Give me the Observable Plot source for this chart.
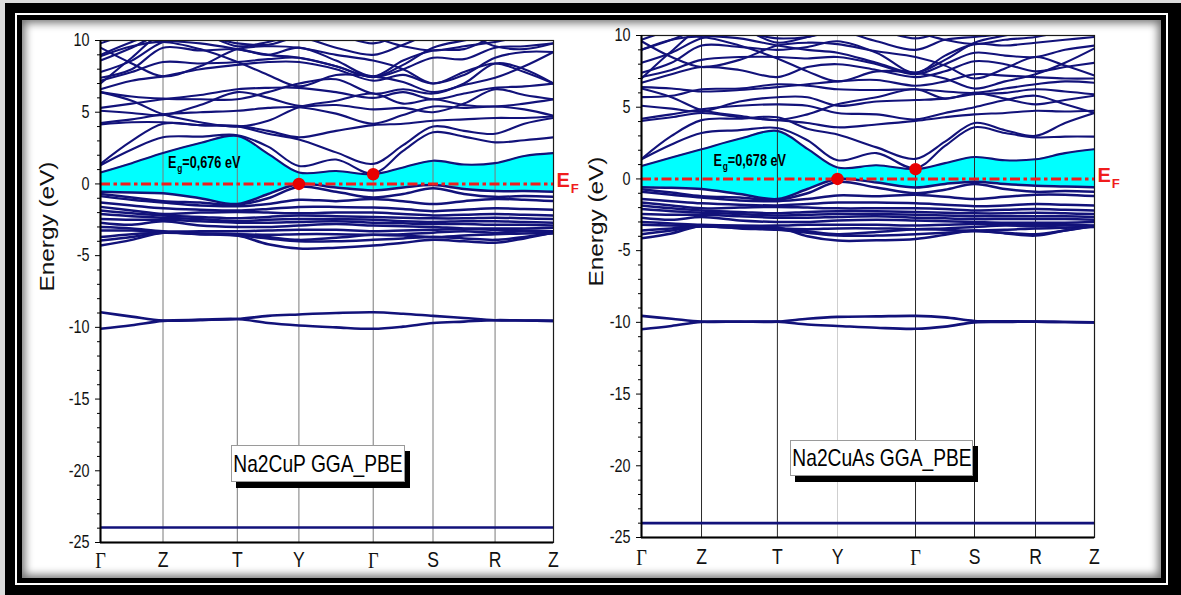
<!DOCTYPE html>
<html><head><meta charset="utf-8">
<script src="https://cdn.jsdelivr.net/npm/d3@7"></script>
<script src="https://cdn.jsdelivr.net/npm/@observablehq/plot@0.6"></script>
<style>
html,body{margin:0;padding:0;}
body{width:1181px;height:595px;overflow:hidden;position:relative;background:#dcdcdc;
 font-family:"Liberation Sans",Arial,sans-serif;}
#f1{position:absolute;left:5px;top:3px;width:1176px;height:592px;box-sizing:border-box;border-style:solid;border-color:#000;border-width:10px 13px 10px 10px;background:#fff;}
#f2{position:absolute;left:0;top:0;right:0;bottom:0;box-sizing:border-box;border:2px solid #fff;}
#f3{position:absolute;left:0;top:0;right:0;bottom:0;box-sizing:border-box;border:5px solid #000;background:#fff;box-shadow:inset 0 0 9px 3px rgba(0,0,0,0.55);}
.panel{position:absolute;top:0;z-index:2;}
.lg{position:absolute;z-index:3;background:#fff;border:1px solid #9a9a9a;box-shadow:5px 6px 0 #000;font-size:24px;color:#000;box-sizing:border-box;}
.lg span{position:absolute;left:50%;top:50%;white-space:nowrap;line-height:1;transform:translate(-50%,-50%) scaleX(0.8);}
</style></head>
<body>
<div id="f1"><div id="f2"><div id="f3"></div></div></div>
<div id="left" class="panel" style="left:0px"></div>
<div id="right" class="panel" style="left:560px"></div>
<div class="lg" style="left:231px;top:445px;width:174px;height:37px;"><span id="lgL"></span></div>
<div class="lg" style="left:790px;top:440px;width:183px;height:36px;"><span id="lgR"></span></div>
<script>
// ---------- data ----------
const kLabels = ["Γ","Z","T","Y","Γ","S","R","Z"];
const leftK  = [0, 0.138, 0.302, 0.438, 0.602, 0.734, 0.871, 1];
const rightK = [0, 0.1325, 0.300, 0.4327, 0.6049, 0.7351, 0.8698, 1];
const yTicks = [-25, -20, -15, -10, -5, 0, 5, 10];
const compounds = ["Na2CuP GGA_PBE", "Na2CuAs GGA_PBE"];
const gapLabels = ["Eg=0,676 eV", "Eg=0,678 eV"];
const gaps = [0.676, 0.678];
// energies at Γ, mid, Z, mid, T, mid, Y, mid, Γ, mid, S, mid, R, mid, Z
const leftConduction = [
 [0.80,1.45,2.15,2.85,3.35,2.10,0.80,0.90,0.676,1.15,1.62,1.35,1.45,1.95,2.15],
 [1.30,2.40,3.25,3.30,3.40,2.60,1.25,1.70,0.72,2.30,3.60,3.30,2.90,3.05,3.25],
 [1.40,3.00,4.20,4.10,4.00,3.50,3.10,2.20,1.40,2.70,4.00,3.70,3.50,4.20,4.60],
 [4.15,4.30,4.30,4.10,4.05,3.70,3.25,3.70,4.10,4.20,4.40,4.50,4.60,4.60,4.70],
 [4.25,4.50,4.85,5.00,5.10,5.30,5.35,4.90,4.20,4.80,5.40,5.30,5.40,5.20,4.75],
 [5.10,4.95,4.80,5.50,6.40,6.00,5.45,5.50,5.20,5.30,5.00,5.60,6.60,6.20,5.90],
 [5.30,5.60,5.90,6.20,6.60,6.70,6.70,6.40,6.00,6.40,5.90,6.30,6.70,6.80,7.00],
 [6.40,6.10,5.95,5.90,5.90,6.40,7.00,7.30,6.30,6.60,6.30,7.00,8.40,8.00,7.00],
 [6.60,7.20,7.50,8.00,8.30,8.50,8.50,8.00,7.20,7.60,7.00,7.60,8.80,9.20,9.20],
 [7.20,7.80,8.50,8.40,8.50,8.70,8.80,8.20,7.45,8.00,8.80,8.70,9.50,9.60,9.80],
 [7.40,8.00,9.50,9.30,9.40,9.00,9.50,8.60,7.50,8.60,9.30,9.40,10.2,10.2,10.3],
 [7.80,8.60,9.90,10.3,9.80,9.70,10.2,9.50,9.00,9.70,10.5,10.5,10.6,10.6,10.6],
 [8.60,9.50,10.5,10.6,10.5,10.4,10.6,10.4,9.80,10.4,10.6,10.6,10.7,10.7,10.7],
 [7.00,8.80,10.5,10.5,9.60,9.90,10.4,10.4,10.3,10.5,10.7,10.7,10.8,10.8,10.9],
 [10.4,10.2,10.0,9.80,9.40,9.00,8.80,8.20,7.45,8.30,9.50,10.0,10.4,10.6,10.8],
 [9.00,9.90,10.6,10.8,10.8,10.8,10.8,10.6,10.2,9.60,9.30,9.60,9.90,10.3,10.6],
 [9.80,10.5,10.9,10.9,10.9,10.9,10.9,10.9,10.9,10.9,10.9,10.5,9.60,9.40,9.80],
 [9.50,8.40,7.50,8.20,9.40,9.60,9.50,9.00,8.60,8.00,7.00,7.80,8.40,7.80,7.00],
 [6.40,5.80,4.85,4.30,4.00,4.40,5.35,5.80,6.30,5.60,5.90,5.50,5.40,5.60,5.90],
 [8.90,9.60,9.90,9.40,8.50,7.60,6.80,7.60,7.50,7.10,6.40,6.90,7.40,8.20,9.20]
];
const leftValence = [
 [-0.55,-0.60,-0.65,-1.00,-1.40,-0.70,0.00,-0.25,-0.45,-0.25,-0.08,-0.35,-0.50,-0.50,-0.55],
 [-0.70,-0.95,-1.20,-1.30,-1.45,-1.00,-0.20,-0.55,-0.95,-0.70,-0.30,-0.70,-0.90,-0.85,-0.90],
 [-0.85,-1.10,-1.30,-1.50,-1.55,-1.40,-1.10,-1.20,-1.05,-1.20,-1.40,-1.20,-1.05,-1.10,-1.20],
 [-1.30,-1.50,-1.70,-1.80,-1.85,-1.75,-1.60,-1.60,-1.65,-1.75,-1.90,-1.80,-1.70,-1.75,-1.80],
 [-1.60,-1.85,-2.10,-2.00,-1.95,-2.00,-2.05,-2.00,-2.00,-2.10,-2.20,-2.15,-2.10,-2.15,-2.20],
 [-1.85,-2.05,-2.20,-2.30,-2.40,-2.30,-2.20,-2.25,-2.30,-2.35,-2.40,-2.40,-2.35,-2.40,-2.45],
 [-2.10,-2.25,-2.35,-2.45,-2.60,-2.50,-2.45,-2.45,-2.50,-2.60,-2.65,-2.60,-2.60,-2.65,-2.70],
 [-2.45,-2.50,-2.50,-2.60,-2.70,-2.70,-2.65,-2.60,-2.70,-2.75,-2.80,-2.80,-2.85,-2.85,-2.90],
 [-2.70,-2.85,-2.60,-2.90,-3.00,-3.00,-2.90,-2.80,-2.90,-2.95,-3.00,-3.10,-3.10,-3.10,-3.05],
 [-3.00,-3.10,-3.30,-3.30,-3.30,-3.25,-3.20,-3.20,-3.30,-3.25,-3.20,-3.15,-3.20,-3.25,-3.30],
 [-3.25,-3.25,-3.35,-3.45,-3.50,-3.70,-3.90,-3.75,-3.55,-3.50,-3.40,-3.30,-3.40,-3.30,-3.40],
 [-3.70,-3.50,-3.40,-3.45,-3.50,-3.55,-3.50,-3.50,-3.55,-3.60,-3.70,-3.60,-3.50,-3.45,-3.45],
 [-3.95,-3.70,-3.40,-3.50,-3.60,-3.80,-4.00,-4.00,-3.90,-3.80,-3.70,-3.80,-3.90,-3.70,-3.40],
 [-4.30,-3.90,-3.40,-3.50,-3.60,-4.20,-4.50,-4.45,-4.30,-4.10,-3.90,-4.00,-4.10,-3.80,-3.40]
];
const leftCore = [
 [-8.95,-9.25,-9.53,-9.48,-9.42,-9.20,-9.10,-9.00,-8.95,-9.05,-9.20,-9.35,-9.50,-9.52,-9.55],
 [-10.10,-9.85,-9.55,-9.48,-9.42,-9.70,-9.87,-10.00,-10.10,-9.95,-9.70,-9.60,-9.50,-9.52,-9.55],
 [-23.95,-23.95,-23.95,-23.95,-23.95,-23.95,-23.95,-23.95,-23.95,-23.95,-23.95,-23.95,-23.95,-23.95,-23.95]
];
const rightConduction = [
 [0.90,1.50,2.07,2.80,3.35,2.10,0.80,0.95,0.678,1.10,1.53,1.30,1.37,1.80,2.07],
 [1.37,2.40,3.20,3.40,3.55,2.70,1.30,1.80,0.74,2.30,3.60,3.20,2.90,2.95,2.95],
 [1.40,3.00,4.10,4.20,4.30,3.50,3.10,2.20,1.40,2.60,3.90,3.40,3.00,3.90,4.60],
 [4.05,4.30,4.60,4.30,4.10,3.90,3.60,3.80,4.05,4.30,4.50,4.60,4.75,4.70,4.75],
 [4.20,4.50,4.85,5.10,5.20,5.10,4.60,4.50,4.15,4.60,5.00,5.50,5.80,5.20,4.60],
 [5.10,4.90,4.70,5.40,5.70,5.70,5.10,5.40,5.50,5.60,5.90,6.00,6.25,6.10,5.90],
 [5.70,5.80,6.25,6.30,6.60,6.50,6.25,6.20,6.25,6.10,6.00,6.30,6.60,6.80,6.70],
 [6.40,6.30,6.10,6.20,6.40,6.60,6.80,6.90,6.50,6.80,7.30,7.20,7.10,7.00,7.00],
 [6.70,7.30,7.80,7.60,7.10,7.80,8.00,7.60,7.10,7.50,8.20,8.00,7.50,7.80,8.10],
 [7.10,7.60,8.30,8.50,8.50,8.40,8.50,8.00,7.30,8.00,8.80,8.60,8.50,9.00,9.30],
 [7.40,8.10,9.30,9.20,9.00,9.20,9.60,8.80,7.40,8.60,9.40,9.30,9.50,9.70,9.90],
 [8.10,8.80,9.80,10.2,9.80,9.90,10.3,9.60,9.00,9.70,9.90,10.1,10.4,10.5,10.6],
 [9.00,9.70,10.5,10.6,10.4,10.4,10.6,10.4,9.80,10.3,10.6,10.6,10.7,10.7,10.7],
 [7.00,8.90,10.5,10.5,9.50,9.90,10.4,10.4,10.3,10.5,10.7,10.7,10.8,10.8,10.9],
 [10.4,10.2,10.0,9.80,9.30,9.00,8.80,8.10,7.40,8.30,9.50,10.0,10.4,10.6,10.8],
 [9.70,10.4,10.9,10.9,10.9,10.9,10.9,10.6,10.2,9.70,9.40,9.70,9.90,10.3,10.6],
 [9.60,8.50,7.80,8.30,9.30,9.50,9.40,8.90,8.50,7.90,7.00,7.70,8.50,7.90,7.20],
 [6.30,5.70,4.80,4.40,4.10,4.50,5.20,5.70,6.25,5.60,6.00,5.60,5.20,5.50,5.80],
 [9.00,9.70,9.90,9.30,8.40,7.50,6.80,7.50,7.40,7.00,6.30,6.80,7.30,8.10,9.10]
];
const rightValence = [
 [-0.58,-0.62,-0.70,-1.05,-1.40,-0.70,0.00,-0.25,-0.60,-0.35,-0.19,-0.35,-0.47,-0.52,-0.58],
 [-0.72,-0.95,-1.20,-1.30,-1.45,-1.00,-0.20,-0.60,-1.00,-0.75,-0.35,-0.70,-0.90,-0.85,-0.90],
 [-0.90,-1.10,-1.30,-1.50,-1.55,-1.40,-1.15,-1.20,-1.10,-1.25,-1.40,-1.25,-1.10,-1.10,-1.20],
 [-1.40,-1.55,-1.70,-1.80,-1.85,-1.75,-1.65,-1.65,-1.70,-1.80,-1.90,-1.85,-1.75,-1.80,-1.85],
 [-1.65,-1.85,-2.05,-2.00,-1.95,-2.00,-2.05,-2.05,-2.05,-2.10,-2.20,-2.15,-2.10,-2.15,-2.20],
 [-1.85,-2.05,-2.20,-2.30,-2.40,-2.30,-2.25,-2.25,-2.30,-2.35,-2.40,-2.40,-2.35,-2.40,-2.45],
 [-2.10,-2.25,-2.35,-2.45,-2.55,-2.50,-2.45,-2.45,-2.50,-2.55,-2.60,-2.60,-2.60,-2.60,-2.65],
 [-2.45,-2.50,-2.50,-2.60,-2.70,-2.70,-2.65,-2.60,-2.70,-2.75,-2.80,-2.80,-2.80,-2.80,-2.85],
 [-2.70,-2.85,-2.65,-2.90,-3.00,-3.00,-2.90,-2.85,-2.90,-2.95,-3.00,-3.05,-3.05,-3.05,-3.00],
 [-3.00,-3.10,-3.20,-3.25,-3.25,-3.20,-3.20,-3.20,-3.25,-3.20,-3.15,-3.15,-3.15,-3.20,-3.25],
 [-3.20,-3.25,-3.30,-3.40,-3.45,-3.65,-3.85,-3.70,-3.50,-3.45,-3.35,-3.25,-3.30,-3.25,-3.30],
 [-3.60,-3.45,-3.30,-3.40,-3.45,-3.50,-3.45,-3.45,-3.50,-3.55,-3.60,-3.55,-3.45,-3.40,-3.35],
 [-3.85,-3.60,-3.30,-3.45,-3.55,-3.75,-3.95,-3.95,-3.85,-3.75,-3.65,-3.75,-3.85,-3.60,-3.30],
 [-4.14,-3.80,-3.26,-3.35,-3.37,-4.00,-4.30,-4.28,-4.19,-3.90,-3.60,-3.80,-3.95,-3.60,-3.26]
];
const rightCore = [
 [-9.55,-9.75,-9.95,-9.95,-9.95,-9.75,-9.62,-9.58,-9.55,-9.65,-9.90,-9.92,-9.95,-9.97,-10.00],
 [-10.48,-10.25,-9.97,-9.96,-9.95,-10.15,-10.25,-10.38,-10.45,-10.30,-10.00,-9.97,-9.95,-9.98,-10.00],
 [-24.0,-24.0,-24.0,-24.0,-24.0,-24.0,-24.0,-24.0,-24.0,-24.0,-24.0,-24.0,-24.0,-24.0,-24.0]
];
// ---------- drawing ----------
const NAVY = "#12127a", RED = "#f01c1c";
function samplesOf(K) {
  const s = [];
  K.forEach((k, i) => { s.push(k); if (i < K.length - 1) s.push((k + K[i + 1]) / 2); });
  return s;
}
function bandRows(groups, s) {
  const out = [];
  groups.forEach((g, gi) => g.forEach((b, bi) => b.forEach((e, i) => out.push({band: gi + "-" + bi, k: s[i], e}))));
  return out;
}
function panel(o) {
  const s = samplesOf(o.K);
  const condRows = bandRows([o.cond], s);
  const coreRows = bandRows([o.core], s);
  const valRows = bandRows([o.val], s);
  const gapRows = s.map((k, i) => ({k, lo: o.val[0][i], hi: o.cond[0][i]}));
  const minor = d3.range(-25, 10.01, 1).filter(v => v % 5 !== 0);
  const dots = [{k: o.K[3], e: 0}, {k: o.K[4], e: o.gap}];
  const gridK = o.K.filter((k, i) => i !== 3 && i !== 0);
  return Plot.plot({
    width: o.width, height: 580,
    marginLeft: o.ml, marginRight: o.mr, marginTop: o.mt, marginBottom: o.mb,
    x: {domain: [0, 1], label: null},
    y: {domain: [-25, 10], label: null},
    style: {background: "transparent", fontFamily: "'Liberation Sans',Arial,sans-serif", color: "#111", overflow: "visible"},
    marks: [
      Plot.areaY(gapRows, {x: "k", y1: "lo", y2: "hi", fill: "#00ffff", curve: "catmull-rom"}),
      Plot.ruleX(gridK, {stroke: o.grid, strokeWidth: 1}),
      Plot.ruleX([o.K[3]], {stroke: o.gridY, strokeWidth: 1}),
      Plot.line(condRows, {x: "k", y: "e", z: "band", stroke: NAVY, strokeWidth: 2.1, curve: "catmull-rom", clip: true}),
      Plot.line(coreRows, {x: "k", y: "e", z: "band", stroke: NAVY, strokeWidth: 2.6, curve: "catmull-rom", clip: true}),
      Plot.line(valRows, {x: "k", y: "e", z: "band", stroke: NAVY, strokeWidth: 2.5, curve: "catmull-rom", clip: true}),
      Plot.ruleY([0], {stroke: RED, strokeWidth: 3, strokeDasharray: "10,3.5,3.5,3.5"}),
      Plot.dot(dots, {x: "k", y: "e", r: 5.5, fill: "#e80000", stroke: "#e80000"}),
      Plot.frame({stroke: "#1a1a1a", strokeWidth: 1.2}),
      Plot.ruleX([0], {stroke: "#000", strokeWidth: 2}),
      Plot.ruleY([-25], {stroke: "#000", strokeWidth: 2.2}),
      Plot.axisY({ticks: yTicks, tickSize: 5, tickPadding: 6, tickFormat: d => String(d), fontSize: 18, label: null, stroke: "#000"}),
      Plot.axisY({ticks: minor, tickSize: 3, tickFormat: () => "", label: null, stroke: "#000"}),
      Plot.axisX({ticks: o.K, tickSize: 0, tickPadding: o.xpad, tickFormat: d => kLabels[o.K.indexOf(d)], fontSize: 22, label: null}),
      Plot.text(["Energy (eV)"], {text: d => d, frameAnchor: "left", dx: o.labelDx, rotate: -90, fontSize: 20, fill: "#111"}),
      Plot.text([o.gapLabel], {text: d => d, x: o.gx, y: o.gy, textAnchor: "start", fontWeight: "bold", fontSize: 16, fill: "#000"}),
      Plot.text(["EF"], {text: d => d, x: 1, y: 0, dx: 3, dy: -3, textAnchor: "start", fontWeight: "bold", fontSize: 20, fill: RED})
    ]
  });
}
function squeeze(el, f) {
  const L = el.getComputedTextLength();
  el.setAttribute("textLength", L * f);
  el.setAttribute("lengthAdjust", "spacingAndGlyphs");
}
function finish(svg) {
  d3.select(svg).selectAll("text").each(function () {
    const t = this.textContent;
    if (t === "") return;
    if (t === "Γ") {
      this.setAttribute("font-family", "'Liberation Serif','DejaVu Serif',serif");
      this.setAttribute("font-size", "23");
      squeeze(this, 0.8);
      return;
    }
    if (t === "Energy (eV)") {
      this.setAttribute("textLength", "130");
      this.setAttribute("lengthAdjust", "spacingAndGlyphs");
      return;
    }
    const m = t.match(/^E([gF])(.*)$/);
    if (m) {
      const sh = m[1] === "F" ? 6 : 4;
      const el = d3.select(this);
      el.text(null);
      el.append("tspan").text("E");
      el.append("tspan").attr("dx", 1).attr("dy", sh).attr("font-size", "0.66em").text(m[1]);
      if (m[2]) el.append("tspan").attr("dy", -sh).text(m[2]);
      if (m[1] === "F") return;
    }
    squeeze(this, 0.8);
  });
}
const svgL = panel({
  K: leftK, cond: leftConduction, val: leftValence, core: leftCore, gap: gaps[0],
  width: 590, ml: 100, mr: 37, mt: 40, mb: 38, xpad: 9, labelDx: -53,
  grid: "#7a7a7a", gridY: "#7a7a7a", gapLabel: gapLabels[0], gx: 0.149, gy: 1.45
});
const svgR = panel({
  K: rightK, cond: rightConduction, val: rightValence, core: rightCore, gap: gaps[1],
  width: 600, ml: 81, mr: 66, mt: 35, mb: 43, xpad: 11, labelDx: -45,
  grid: "#2a2a2a", gridY: "#cfcfcf", gapLabel: gapLabels[1], gx: 0.159, gy: 1.25
});
document.getElementById("left").append(svgL);
document.getElementById("right").append(svgR);
finish(svgL);
finish(svgR);
document.getElementById("lgL").textContent = compounds[0];
document.getElementById("lgR").textContent = compounds[1];
</script>
</body></html>
